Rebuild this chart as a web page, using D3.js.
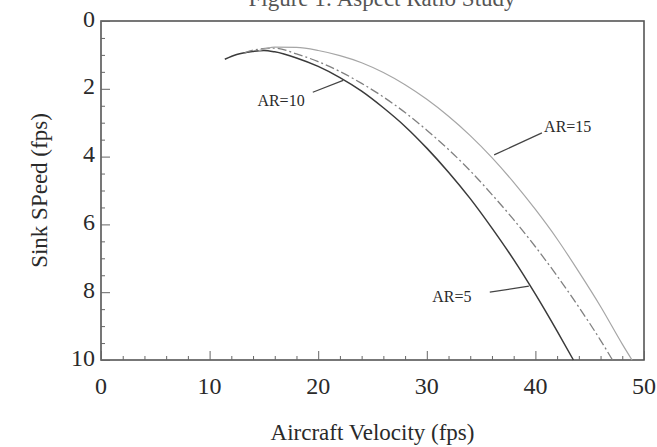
<!DOCTYPE html>
<html>
<head>
<meta charset="utf-8">
<script src="https://cdn.jsdelivr.net/npm/d3@7"></script>
<style>
  body { margin: 0; background: #fff; }
</style>
</head>
<body>
<script>
const width = 657, height = 447;

// aircraft velocity (fps) and sink speed (fps)
const ar5V  = [11.4, 12.5, 14, 15, 16, 18, 20, 22, 24, 26, 28, 30, 32, 34, 36, 38, 40, 42, 43.5];
const ar5S  = [1.13, 0.99, 0.9, 0.87, 0.91, 1.09, 1.34, 1.67, 2.07, 2.56, 3.11, 3.75, 4.46, 5.24, 6.11, 7.04, 8.06, 9.15, 10];
const ar10V = [13.2, 14, 16, 18, 20, 22, 24, 26, 28, 30, 32, 34, 36, 38, 40, 42, 44, 46, 47.1];
const ar10S = [0.95, 0.86, 0.8, 0.97, 1.2, 1.49, 1.84, 2.24, 2.7, 3.22, 3.79, 4.42, 5.12, 5.86, 6.66, 7.52, 8.44, 9.42, 10];
const ar15V = [14.5, 16, 18, 20, 22, 24, 26, 28, 30, 32, 34, 36, 38, 40, 42, 44, 46, 48, 48.9];
const ar15S = [0.88, 0.77, 0.78, 0.87, 1.02, 1.23, 1.52, 1.88, 2.31, 2.81, 3.38, 4.03, 4.76, 5.56, 6.43, 7.4, 8.42, 9.53, 10];

const xTicks = [0, 10, 20, 30, 40, 50];
const yTicks = [0, 2, 4, 6, 8, 10];

const margin = {top: 21, right: 13, bottom: 87, left: 101};

const x = d3.scaleLinear().domain([0, 50]).range([margin.left, width - margin.right]);
const y = d3.scaleLinear().domain([0, 10]).range([margin.top, height - margin.bottom]);

const svg = d3.select("body").append("svg")
    .attr("width", width)
    .attr("height", height)
    .attr("font-family", "'Liberation Serif', 'DejaVu Serif', serif")
    .attr("fill", "#2a2a2a");

// title, mostly cut off by the top of the page
svg.append("text")
    .attr("x", 382)
    .attr("y", 6)
    .attr("text-anchor", "middle")
    .attr("font-size", 23)
    .attr("fill", "#555")
    .text("Figure 1: Aspect Ratio Study");

// frame
svg.append("rect")
    .attr("x", x(0))
    .attr("y", y(0))
    .attr("width", x(50) - x(0))
    .attr("height", y(10) - y(0))
    .attr("fill", "none")
    .attr("stroke", "#555")
    .attr("stroke-width", 1.6);

// x ticks, drawn inward from the bottom
const xAxis = svg.append("g")
    .attr("transform", `translate(0,${y(10)})`)
    .call(d3.axisBottom(x).tickValues(d3.range(0, 51, 2)).tickSize(-4).tickFormat(""))
    .call(g => g.select(".domain").remove());
xAxis.selectAll("line").attr("stroke", "#666");
xAxis.selectAll(".tick")
    .filter(d => d % 10 === 0)
    .select("line").attr("y2", -9);

svg.append("g")
    .selectAll("text")
    .data(xTicks)
    .enter().append("text")
    .attr("x", d => x(d))
    .attr("y", y(10) + 34)
    .attr("text-anchor", "middle")
    .attr("font-size", 24)
    .text(d => d);

// y ticks, drawn inward from the left
const yAxis = svg.append("g")
    .attr("transform", `translate(${x(0)},0)`)
    .call(d3.axisLeft(y).tickValues(d3.range(0, 10.01, 0.5)).tickSize(-4).tickFormat(""))
    .call(g => g.select(".domain").remove());
yAxis.selectAll("line").attr("stroke", "#666");
yAxis.selectAll(".tick")
    .filter(d => d % 2 === 0)
    .select("line").attr("x2", 9);

svg.append("g")
    .selectAll("text")
    .data(yTicks)
    .enter().append("text")
    .attr("x", x(0) - 6)
    .attr("y", d => y(d) - 2)
    .attr("dy", "0.32em")
    .attr("text-anchor", "end")
    .attr("font-size", 24)
    .text(d => d);

// axis titles
svg.append("text")
    .attr("x", (x(0) + x(50)) / 2)
    .attr("y", 440)
    .attr("text-anchor", "middle")
    .attr("font-size", 23)
    .text("Aircraft Velocity (fps)");

svg.append("text")
    .attr("transform", `translate(47,${(y(0) + y(10)) / 2}) rotate(-90)`)
    .attr("text-anchor", "middle")
    .attr("font-size", 23)
    .text("Sink SPeed (fps)");

// curves
const series = [
  {v: ar5V,  s: ar5S,  stroke: "#3a3a3a", dash: null,       w: 1.5},
  {v: ar10V, s: ar10S, stroke: "#808080", dash: "9,3,2,3",  w: 1.3},
  {v: ar15V, s: ar15S, stroke: "#a6a6a6", dash: null,       w: 1.2}
];

const line = d3.line()
    .x(d => x(d[0]))
    .y(d => y(d[1]))
    .curve(d3.curveMonotoneX);

svg.append("g")
    .selectAll("path")
    .data(series)
    .enter().append("path")
    .attr("fill", "none")
    .attr("stroke", d => d.stroke)
    .attr("stroke-width", d => d.w)
    .attr("stroke-dasharray", d => d.dash)
    .attr("d", d => line(d.v.map((v, i) => [v, d.s[i]])));

// curve labels with leader lines
const labels = [
  {text: "AR=10", lx: 14.4, ly: 2.52, from: [19.5, 2.1],  to: [22.3, 1.75]},
  {text: "AR=15", lx: 40.8, ly: 3.27, from: [40.6, 3.3],  to: [36.2, 3.95]},
  {text: "AR=5",  lx: 30.5, ly: 8.3,  from: [35.8, 8.0],  to: [39.4, 7.82]}
];

svg.append("g")
    .selectAll("text")
    .data(labels)
    .enter().append("text")
    .attr("x", d => x(d.lx))
    .attr("y", d => y(d.ly))
    .attr("font-size", 16)
    .text(d => d.text);

svg.append("g")
    .selectAll("line")
    .data(labels)
    .enter().append("line")
    .attr("x1", d => x(d.from[0]))
    .attr("y1", d => y(d.from[1]))
    .attr("x2", d => x(d.to[0]))
    .attr("y2", d => y(d.to[1]))
    .attr("stroke", "#444")
    .attr("stroke-width", 1.2);
</script>
</body>
</html>
